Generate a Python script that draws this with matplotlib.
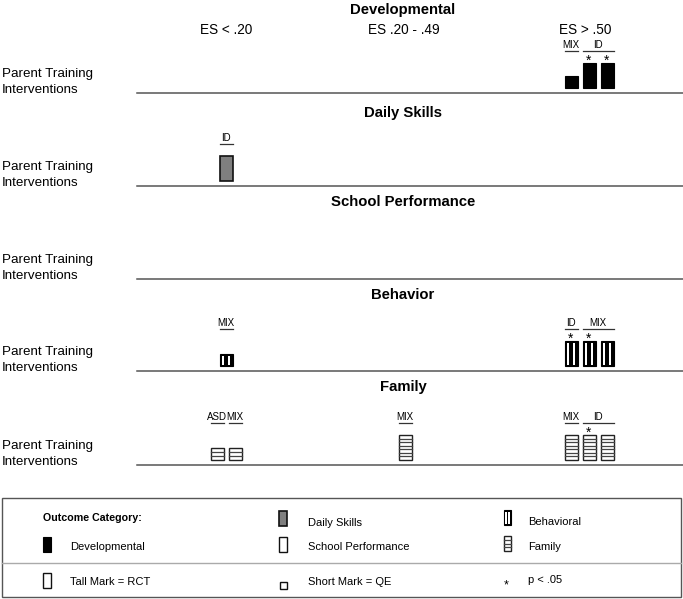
import matplotlib.pyplot as plt
from matplotlib.patches import Rectangle

plt.rcParams['font.family'] = ['Liberation Sans', 'DejaVu Sans']

# effect-size columns and outcome panels
es_bins = ["ES < .20", "ES .20 - .49", "ES > .50"]
outcomes = ["Developmental", "Daily Skills", "School Performance", "Behavior", "Family"]
styles = ["solid", "gray", "white", "vstripe", "hstripe"]
row_label = "Parent Training\nInterventions"

# one entry per mark: ES column, sample label, design, significant?
dev_bin = [2, 2, 2]
dev_group = ["MIX", "ID", "ID"]
dev_design = ["QE", "RCT", "RCT"]
dev_sig = [False, True, True]

daily_bin = [0]
daily_group = ["ID"]
daily_design = ["RCT"]
daily_sig = [False]

school_bin = []
school_group = []
school_design = []
school_sig = []

beh_bin = [0, 2, 2, 2]
beh_group = ["MIX", "ID", "MIX", "MIX"]
beh_design = ["QE", "RCT", "RCT", "RCT"]
beh_sig = [False, True, True, False]

fam_bin = [0, 0, 1, 2, 2, 2]
fam_group = ["ASD", "MIX", "MIX", "MIX", "ID", "ID"]
fam_design = ["QE", "QE", "RCT", "RCT", "RCT", "RCT"]
fam_sig = [False, False, False, False, True, False]

legend_cat = ["Developmental", "Daily Skills", "School Performance", "Behavioral", "Family"]
legend_key = ["Tall Mark = RCT", "Short Mark = QE", "p < .05"]

rows = [
    (dev_bin, dev_group, dev_design, dev_sig),
    (daily_bin, daily_group, daily_design, daily_sig),
    (school_bin, school_group, school_design, school_sig),
    (beh_bin, beh_group, beh_design, beh_sig),
    (fam_bin, fam_group, fam_design, fam_sig),
]

# layout (pixel units, y downwards)
bin_x = [226, 405, 589]
header_x = [226, 404, 585]
line_y = [93, 186, 279, 371, 465]
title_y = [10, 113, 202, 295, 387]
bar_w, pitch = 13, 18
tall_h, short_h = 25, 12


def draw_mark(ax, x0, y1, w, h, style):
    # x0 = left, y1 = bottom (pixel coords, y grows downward)
    y0 = y1 - h
    if style == "solid":
        ax.add_patch(Rectangle((x0, y0), w, h, fc='black', ec='black', lw=0.8))
    elif style == "gray":
        ax.add_patch(Rectangle((x0, y0), w, h, fc='#7f7f7f', ec='#111111', lw=1.2))
    elif style == "white":
        ax.add_patch(Rectangle((x0, y0), w, h, fc='white', ec='#111111', lw=1.0))
    elif style == "vstripe":
        ax.add_patch(Rectangle((x0, y0), w, h, fc='black', ec='black', lw=0.8))
        for f in (0.16, 0.62):
            ax.add_patch(Rectangle((x0 + f * w, y0 + 1.5), 0.2 * w, h - 3,
                                   fc='white', ec='none'))
    elif style == "hstripe":
        ax.add_patch(Rectangle((x0, y0), w, h, fc='white', ec='#222222', lw=1.0))
        n = max(2, round(h / 3.6))
        for k in range(1, n):
            yy = y0 + k * h / n
            ax.plot([x0, x0 + w], [yy, yy], color='#444444', lw=0.9)


fig = plt.figure(figsize=(6.83, 5.99), dpi=100)
ax = fig.add_axes([0, 0, 1, 1])
ax.set_xlim(0, 683)
ax.set_ylim(599, 0)
ax.axis('off')

for x, t in zip(header_x, es_bins):
    ax.text(x, 30, t, ha='center', va='center', fontsize=9.8)

for r, (title, style, data) in enumerate(zip(outcomes, styles, rows)):
    ly = line_y[r]
    ax.text(403, title_y[r], title, ha='center', va='center', fontsize=10.7, fontweight='bold')
    ax.text(2, ly - 11, row_label, ha='left', va='center', fontsize=9.6, linespacing=1.38)
    ax.plot([137, 683], [ly, ly], color='#555555', lw=1.1)

    bins, groups, designs, sigs = data
    # x position of each mark, centred within its ES column
    xs = []
    for i, b in enumerate(bins):
        idx = [j for j in range(len(bins)) if bins[j] == b]
        k = idx.index(i)
        xs.append(bin_x[b] + (k - (len(idx) - 1) / 2) * pitch)
    bottom = ly - 5
    for i in range(len(bins)):
        h = tall_h if designs[i] == "RCT" else short_h
        draw_mark(ax, xs[i] - bar_w / 2, bottom, bar_w, h, style)
        if sigs[i]:
            ax.text(xs[i], ly - 32, "*", ha='center', va='center', fontsize=10)
    # group labels with underline
    i = 0
    while i < len(bins):
        j = i
        while j + 1 < len(bins) and bins[j + 1] == bins[i] and groups[j + 1] == groups[i]:
            j += 1
        xl, xr = xs[i] - bar_w / 2, xs[j] + bar_w / 2
        ax.text((xl + xr) / 2, ly - 48, groups[i], ha='center', va='center', fontsize=7.0)
        ax.plot([xl, xr], [ly - 42, ly - 42], color='#333333', lw=0.9)
        i = j + 1

# legend box
ax.add_patch(Rectangle((2, 498), 679, 99, fc='none', ec='#555555', lw=1.0))
ax.plot([2, 681], [562.5, 562.5], color='#aaaaaa', lw=1.0)
ax.text(43, 518, "Outcome Category:", ha='left', va='center', fontsize=7.7, fontweight='bold')

leg_mark_x = [43, 279, 279, 504, 504]
leg_mark_y = [552, 526, 552, 525, 551]
leg_text_x = [70, 308, 308, 528, 528]
leg_text_y = [547, 523, 547, 522, 547]
for i, lab in enumerate(legend_cat):
    w = 8 if styles[i] != "vstripe" and styles[i] != "hstripe" else 7
    draw_mark(ax, leg_mark_x[i], leg_mark_y[i], w, 15, styles[i])
    ax.text(leg_text_x[i], leg_text_y[i], lab, ha='left', va='center', fontsize=8)

draw_mark(ax, 43, 588, 8, 15, "white")
ax.text(70, 582, legend_key[0], ha='left', va='center', fontsize=8)
draw_mark(ax, 279.5, 589, 7.5, 7.5, "white")
ax.text(308, 582, legend_key[1], ha='left', va='center', fontsize=8)
ax.text(506, 585, "*", ha='center', va='center', fontsize=9)
ax.text(528, 580, legend_key[2], ha='left', va='center', fontsize=8)

fig.savefig('out.png', dpi=100)
